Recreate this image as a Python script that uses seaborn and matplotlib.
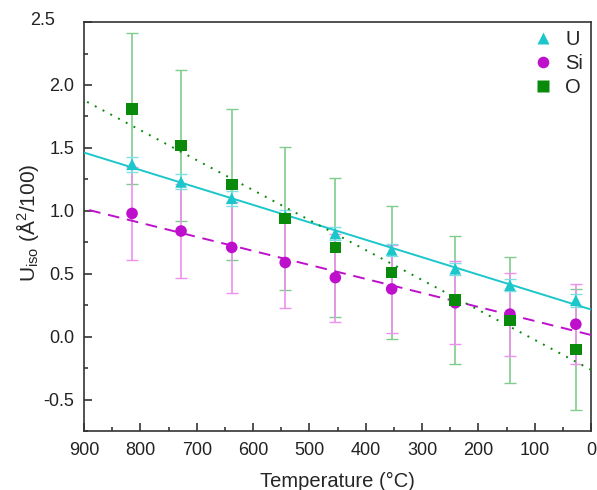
import numpy as np
import pandas as pd
import matplotlib
matplotlib.use("Agg")
import matplotlib.pyplot as plt
import matplotlib.transforms as mtransforms
from matplotlib.ticker import MultipleLocator
import seaborn as sns

temperature = [815, 728, 638, 543, 454, 354, 241, 144, 27]
u_vals = [1.37, 1.23, 1.10, 0.96, 0.82, 0.69, 0.54, 0.41, 0.29]
u_err = [0.06, 0.06, 0.06, 0.05, 0.05, 0.05, 0.05, 0.05, 0.05]
si_vals = [0.98, 0.84, 0.71, 0.59, 0.47, 0.38, 0.27, 0.18, 0.10]
si_err = [0.37, 0.37, 0.36, 0.36, 0.35, 0.35, 0.33, 0.33, 0.32]
o_vals = [1.81, 1.52, 1.21, 0.94, 0.71, 0.51, 0.29, 0.13, -0.10]
o_err = [0.60, 0.60, 0.60, 0.57, 0.55, 0.53, 0.51, 0.50, 0.48]

labels = ["U", "Si", "O"]
colors = {"U": "#1CC7CC", "Si": "#BE10CC", "O": "#0A8A0A"}
err_colors = {"U": "#7FE0E4", "Si": "#EE90EE", "O": "#80CC8C"}
markers = {"U": "^", "Si": "o", "O": "s"}
linestyles = {"U": "-", "Si": (0, (6, 4)), "O": (0, (1, 3.5))}

sns.set_style("white")
plt.rcParams["font.family"] = ["Liberation Sans", "DejaVu Sans"]
plt.rcParams["mathtext.fontset"] = "custom"
plt.rcParams["mathtext.rm"] = "Liberation Sans"
plt.rcParams["mathtext.it"] = "Liberation Sans:italic"

rows = []
for lab, vals, errs in [("U", u_vals, u_err), ("Si", si_vals, si_err), ("O", o_vals, o_err)]:
    for t, v, e in zip(temperature, vals, errs):
        rows.append({"T": t, "val": v, "err": e, "species": lab})
df = pd.DataFrame(rows)

fig, ax = plt.subplots(figsize=(5.97, 4.90), dpi=100)
fig.subplots_adjust(left=0.141, right=0.99, top=0.955, bottom=0.12)

# error bars
for lab in ["O", "Si", "U"]:
    d = df[df.species == lab]
    ax.errorbar(d["T"], d["val"], yerr=d["err"], fmt="none", ecolor=err_colors[lab],
                elinewidth=1.2, capsize=4, capthick=1.0, zorder=2)

# linear fits
xfit = np.linspace(900, 0, 50)
for lab in ["U", "Si", "O"]:
    d = df[df.species == lab]
    p = np.polyfit(d["T"], d["val"], 1)
    sns.lineplot(x=xfit, y=np.polyval(p, xfit), ax=ax, color=colors[lab],
                 linestyle=linestyles[lab], linewidth=1.4, zorder=3, legend=False)

# markers
sns.scatterplot(data=df, x="T", y="val", hue="species", style="species",
                hue_order=labels, style_order=labels,
                palette=colors, markers=markers, s=70, edgecolor="none",
                ax=ax, zorder=4)

ax.set_xlim(900, 0)
ax.set_ylim(-0.75, 2.5)
ax.xaxis.set_major_locator(MultipleLocator(100))
ax.xaxis.set_minor_locator(MultipleLocator(50))
ax.yaxis.set_major_locator(MultipleLocator(0.5))
ax.yaxis.set_minor_locator(MultipleLocator(0.25))
ax.yaxis.set_major_formatter(matplotlib.ticker.FormatStrFormatter("%.1f"))
ax.tick_params(axis="both", which="major", direction="in", length=6, width=1.1,
               labelsize=13, colors="#222222", left=True, bottom=True, top=False, right=False)
ax.tick_params(axis="both", which="minor", direction="in", length=3, width=1.1,
               left=True, bottom=True, top=False, right=False)
ax.tick_params(axis="x", pad=8)
ax.tick_params(axis="y", pad=7)
for s in ax.spines.values():
    s.set_linewidth(1.2)
    s.set_color("#333333")

ax.set_xlabel("Temperature (°C)", fontsize=14.5, labelpad=9)
ax.set_ylabel(r"U$_{\rm iso}$ (Å$^{2}$/100)", fontsize=15)
ax.yaxis.set_label_coords(-0.085, 0.51)

handles, lbls = ax.get_legend_handles_labels()
leg = ax.legend(handles, lbls, loc="upper right", frameon=False, fontsize=14.5,
                handletextpad=0.3, labelspacing=0.25, borderaxespad=0.0,
                handlelength=1.6, markerscale=1.0)

# the top y tick label sits offset to the upper left in the reference
fig.canvas.draw()
for tl in ax.get_yticklabels():
    if tl.get_text() == "2.5":
        tl.set_transform(tl.get_transform() +
                         mtransforms.ScaledTranslation(-0.19, 0.04, fig.dpi_scale_trans))

fig.savefig("out.png", dpi=100)
